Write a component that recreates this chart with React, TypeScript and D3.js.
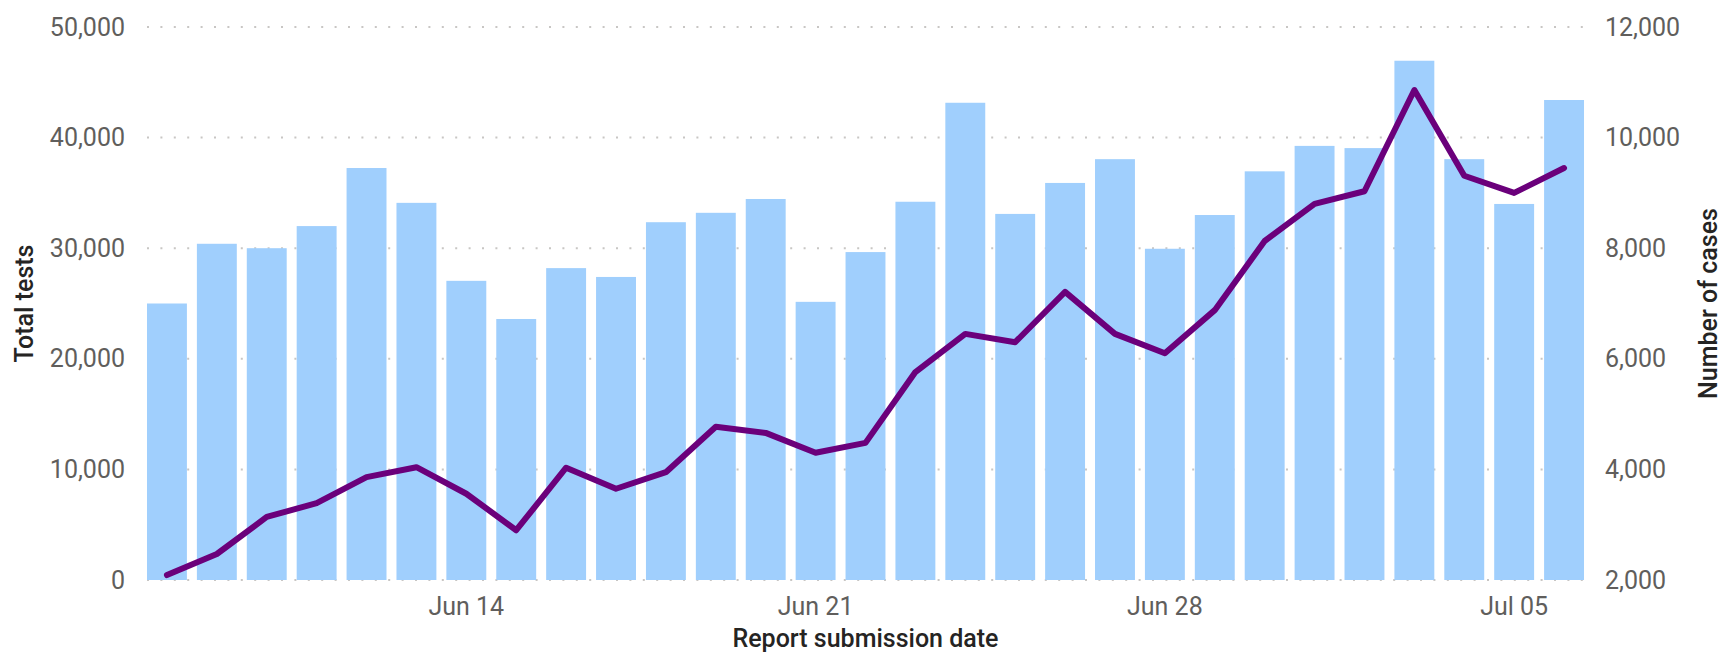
import React from 'react';
import * as d3 from 'd3';

// Report submission dates (one bar per day)
const dates = [
  '2020-06-08', '2020-06-09', '2020-06-10', '2020-06-11', '2020-06-12', '2020-06-13', '2020-06-14',
  '2020-06-15', '2020-06-16', '2020-06-17', '2020-06-18', '2020-06-19', '2020-06-20', '2020-06-21',
  '2020-06-22', '2020-06-23', '2020-06-24', '2020-06-25', '2020-06-26', '2020-06-27', '2020-06-28',
  '2020-06-29', '2020-06-30', '2020-07-01', '2020-07-02', '2020-07-03', '2020-07-04', '2020-07-05',
  '2020-07-06',
];

// Total tests (bars, left axis)
const totalTests = [
  25000, 30400, 30000, 32000, 37250, 34100, 27050, 23600, 28200, 27400,
  32350, 33200, 34450, 25150, 29650, 34200, 43150, 33100, 35900, 38050,
  29950, 33000, 36950, 39250, 39050, 46950, 38050, 34000, 43400,
];

// Number of cases (line, right axis)
const cases = [
  2090, 2470, 3140, 3390, 3860, 4040, 3560, 2900, 4030, 3650,
  3950, 4770, 4660, 4300, 4480, 5760, 6450, 6300, 7210, 6450,
  6100, 6880, 8130, 8800, 9030, 10860, 9310, 9000, 9450,
];

const leftTicks = [0, 10000, 20000, 30000, 40000, 50000];
const rightTicks = [2000, 4000, 6000, 8000, 10000, 12000];
const xTickDates = ['2020-06-14', '2020-06-21', '2020-06-28', '2020-07-05'];
const xTickLabels = ['Jun 14', 'Jun 21', 'Jun 28', 'Jul 05'];

const W = 1733;
const H = 653;
const plot = { left: 147, right: 1584, top: 27, bottom: 580 };

const tickFont = 'Roboto, "Open Sans", sans-serif';
const titleFont = 'Roboto, "DejaVu Sans Condensed", sans-serif';
const tickColor = '#605E5C';
const titleColor = '#252423';

export default function App() {
  const x = d3.scaleBand<string>()
    .domain(dates)
    .range([plot.left - 5, plot.right + 5])
    .paddingInner(0.2)
    .paddingOuter(0.1);

  const yLeft = d3.scaleLinear().domain([0, 50000]).range([plot.bottom, plot.top]);
  const yRight = d3.scaleLinear().domain([2000, 12000]).range([plot.bottom, plot.top]);

  const fmt = d3.format(',');
  const cx = (d: string) => (x(d) as number) + x.bandwidth() / 2;

  const line = d3.line<number>()
    .x((_, i) => cx(dates[i]))
    .y(d => yRight(d))
    .curve(d3.curveLinear);

  return (
    <svg width={W} height={H} style={{ display: 'block', position: 'absolute', left: 0, top: 0 }}>
      <style>{`body{margin:0}`}</style>

      {/* dotted gridlines */}
      {leftTicks.map(t => (
        <line key={t} x1={plot.left} x2={plot.right} y1={yLeft(t)} y2={yLeft(t)}
          stroke="#C8C6C4" strokeWidth={2} strokeDasharray="2 11.4" />
      ))}

      {/* bars */}
      {dates.map((d, i) => (
        <rect key={d} x={x(d)} y={yLeft(totalTests[i])} width={x.bandwidth()}
          height={yLeft(0) - yLeft(totalTests[i])} fill="#A0CFFD" />
      ))}

      {/* line */}
      <path d={line(cases) || ''} fill="none" stroke="#6B007B" strokeWidth={6}
        strokeLinejoin="round" strokeLinecap="round" />

      {/* left axis labels */}
      {leftTicks.map(t => (
        <text key={t} x={125} y={yLeft(t)} textAnchor="end" dominantBaseline="central"
          fontFamily={tickFont} fontSize={25} fill={tickColor}>{fmt(t)}</text>
      ))}

      {/* right axis labels */}
      {rightTicks.map(t => (
        <text key={t} x={1605} y={yRight(t)} textAnchor="start" dominantBaseline="central"
          fontFamily={tickFont} fontSize={25} fill={tickColor}>{fmt(t)}</text>
      ))}

      {/* x axis labels */}
      {xTickDates.map((d, i) => (
        <text key={d} x={cx(d)} y={615} textAnchor="middle"
          fontFamily={tickFont} fontSize={25} fill={tickColor}>{xTickLabels[i]}</text>
      ))}

      {/* axis titles */}
      <text x={(plot.left + plot.right) / 2} y={647} textAnchor="middle"
        fontFamily={titleFont} fontSize={25} fontWeight={500} fill={titleColor}>Report submission date</text>
      <text transform={`translate(24,${(plot.top + plot.bottom) / 2}) rotate(-90)`} textAnchor="middle"
        dominantBaseline="central" fontFamily={titleFont} fontSize={25} fontWeight={500}
        fill={titleColor}>Total tests</text>
      <text transform={`translate(1708,${(plot.top + plot.bottom) / 2}) rotate(-90)`} textAnchor="middle"
        dominantBaseline="central" fontFamily={titleFont} fontSize={25} fontWeight={500}
        fill={titleColor}>Number of cases</text>
    </svg>
  );
}
